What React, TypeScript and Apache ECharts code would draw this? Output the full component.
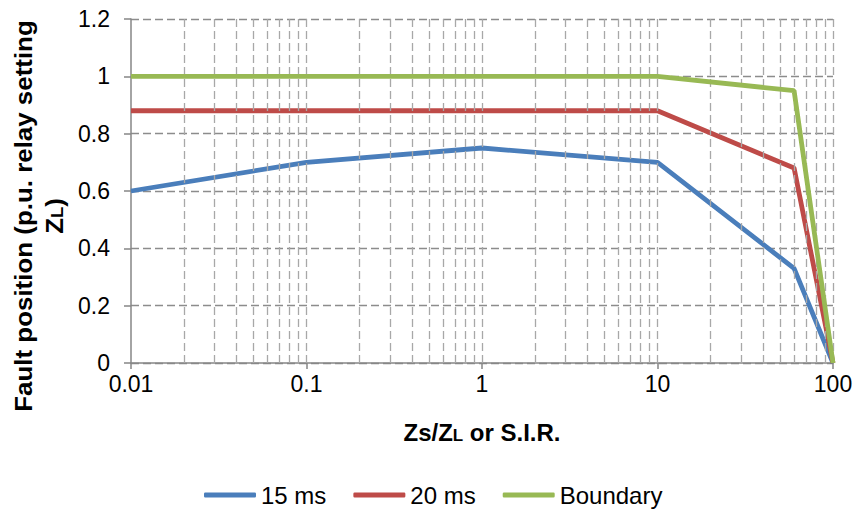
import React, { useEffect, useRef } from "react";
import * as echarts from "echarts";

// Source impedance ratio (Zs/ZL) at each computed point
const sirValues = [0.01, 0.1, 1, 10, 60, 100];
// Fault position reached, p.u. of relay setting ZL
const reach15ms = [0.6, 0.7, 0.75, 0.7, 0.33, 0];
const reach20ms = [0.88, 0.88, 0.88, 0.88, 0.68, 0];
const boundaryReach = [1, 1, 1, 1, 0.95, 0];

const seriesNames = ["15 ms", "20 ms", "Boundary"];
const seriesColors = ["#4A7EBB", "#BE4B48", "#98B954"];

// Logarithmic grid: decade starts and the 2..9 multiples inside each decade
const decades = [0.01, 0.1, 1, 10];
const minorMultipliers = [2, 3, 4, 5, 6, 7, 8, 9];
const xMax = 100;

const FONT = "'Liberation Sans', Arial, sans-serif";

export default function App() {
  const ref = useRef<HTMLDivElement>(null);

  useEffect(() => {
    if (!ref.current) return;
    const chart = echarts.init(ref.current, undefined, { renderer: "svg" });

    const gridXs: number[] = [];
    decades.forEach((d) => {
      if (d !== decades[0]) gridXs.push(d);
      minorMultipliers.forEach((k) => gridXs.push(+(k * d).toPrecision(6)));
    });
    gridXs.push(xMax);

    const toPoints = (ys: number[]) => sirValues.map((x, i) => [x, ys[i]]);
    const valueSets = [reach15ms, reach20ms, boundaryReach];

    chart.setOption({
      animation: false,
      backgroundColor: "#ffffff",
      grid: { left: 131, right: 24, top: 19, bottom: 149, containLabel: false },
      xAxis: {
        type: "log",
        logBase: 10,
        min: 0.01,
        max: xMax,
        axisLine: { show: true, lineStyle: { color: "#868686", width: 1.5 } },
        axisTick: { show: true, length: 6, lineStyle: { color: "#868686", width: 1.5 } },
        splitLine: { show: false },
        minorTick: { show: false },
        axisLabel: {
          fontSize: 23,
          color: "#000",
          fontFamily: FONT,
          margin: 9,
          formatter: (v: number) => String(+Number(v).toPrecision(3)),
        },
      },
      yAxis: {
        type: "value",
        min: 0,
        max: 1.2,
        interval: 0.2,
        axisLine: { show: true, lineStyle: { color: "#868686", width: 1.5 } },
        axisTick: { show: true, length: 7, lineStyle: { color: "#868686", width: 1.5 } },
        splitLine: {
          show: true,
          lineStyle: { color: "#8c8c8c", width: 1.3, type: [8, 4] },
        },
        axisLabel: { fontSize: 23, color: "#000", fontFamily: FONT, margin: 21 },
      },
      legend: {
        data: seriesNames,
        left: 199,
        top: 478,
        icon: "roundRect",
        itemWidth: 52,
        itemHeight: 5,
        itemGap: 27,
        textStyle: { fontSize: 24, color: "#000", fontFamily: FONT },
      },
      series: [
        {
          name: "__grid",
          type: "line",
          data: [],
          z: 1,
          silent: true,
          markLine: {
            silent: true,
            symbol: ["none", "none"],
            label: { show: false },
            lineStyle: { color: "#a8a8a8", width: 1.3, type: [8, 4] },
            data: gridXs.map((x) => ({ xAxis: x })),
          },
        },
        ...valueSets.map((vals, i) => ({
          name: seriesNames[i],
          type: "line",
          data: toPoints(vals),
          showSymbol: false,
          symbol: "none",
          z: 3 + i,
          color: seriesColors[i],
          lineStyle: { color: seriesColors[i], width: 4.8 },
        })),
      ],
      graphic: [
        {
          type: "text",
          x: 23,
          y: 216,
          rotation: Math.PI / 2,
          scaleX: 1.08,
          style: {
            text: "Fault position (p.u. relay setting",
            font: `bold 24px ${FONT}`,
            fill: "#000",
            align: "center",
            verticalAlign: "middle",
          },
        },
        {
          type: "text",
          x: 54,
          y: 216,
          rotation: Math.PI / 2,
          scaleX: 1.08,
          style: {
            text: "Z{sub|L})",
            font: `bold 24px ${FONT}`,
            fill: "#000",
            align: "center",
            verticalAlign: "middle",
            rich: {
              sub: { font: `bold 17px ${FONT}`, fill: "#000", verticalAlign: "bottom" },
            },
          },
        },
        {
          type: "text",
          x: 482,
          y: 432,
          style: {
            text: "Zs/Z{sub|L} or S.I.R.",
            font: `bold 24px ${FONT}`,
            fill: "#000",
            align: "center",
            verticalAlign: "middle",
            rich: {
              sub: { font: `bold 17px ${FONT}`, fill: "#000", verticalAlign: "bottom" },
            },
          },
        },
      ],
    });

    return () => chart.dispose();
  }, []);

  return (
    <div
      ref={ref}
      style={{ position: "fixed", left: 0, top: 0, width: 857, height: 512, background: "#fff" }}
    />
  );
}
